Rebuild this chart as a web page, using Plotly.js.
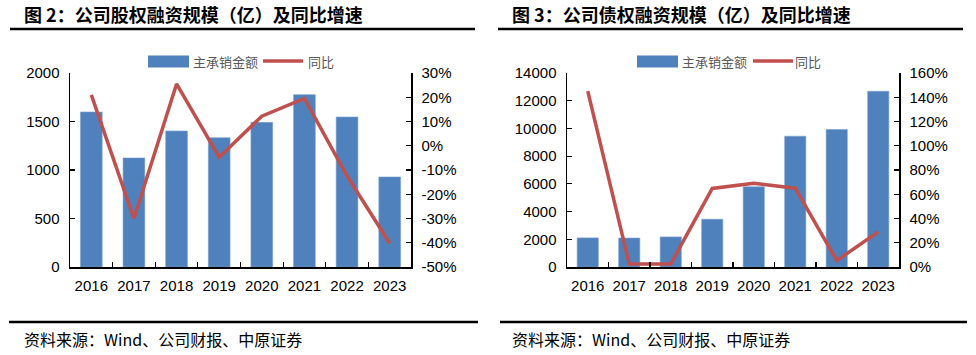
<!DOCTYPE html>
<html>
<head>
<meta charset="utf-8">
<script src="https://cdn.plot.ly/plotly-3.0.1.min.js"></script>
<style>
html,body{margin:0;padding:0;background:#fff;}
#chart{width:976px;height:355px;}
</style>
</head>
<body>
<div id="chart"></div>
<script>
// ---- data ----
const years = ['2016','2017','2018','2019','2020','2021','2022','2023'];
const equityAmount = [1598, 1124, 1402, 1333, 1491, 1777, 1546, 928];
const equityYoY = [21, -30, 25.5, -4.7, 12.2, 19.5, -12.5, -40.2];
const debtAmount = [2100, 2090, 2170, 3450, 5790, 9440, 9920, 12680];
const debtYoY = [145, 2.5, 2.5, 64.8, 69, 65, 5.3, 29];
const equityPctTicks = [30, 20, 10, 0, -10, -20, -30, -40, -50];
const debtPctTicks = [0, 20, 40, 60, 80, 100, 120, 140, 160];
const barName = '主承销金额';
const lineName = '同比';
const titleLeft = '图 2：公司股权融资规模（亿）及同比增速';
const titleRight = '图 3：公司债权融资规模（亿）及同比增速';
const source = '资料来源：Wind、公司财报、中原证券';

// ---- style ----
const W = 976, H = 355;
const px = x => x / W;
const py = y => 1 - y / H;
const BLUE = '#4F81BD', RED = '#C0504D';
const tickFont = {family: 'Liberation Sans, Arial, sans-serif', size: 15, color: '#000'};
const cjk = 'Noto Sans CJK SC, sans-serif';

const traces = [
  {type: 'bar', x: years, y: equityAmount, xaxis: 'x', yaxis: 'y', name: barName,
   marker: {color: BLUE, line: {color: '#7a9fd0', width: 0.6}}, hoverinfo: 'skip'},
  {type: 'scatter', mode: 'lines', x: years, y: equityYoY, xaxis: 'x', yaxis: 'y2', name: lineName,
   line: {color: RED, width: 3.5}, hoverinfo: 'skip'},
  {type: 'bar', x: years, y: debtAmount, xaxis: 'x2', yaxis: 'y3', name: barName,
   marker: {color: BLUE, line: {color: '#7a9fd0', width: 0.6}}, hoverinfo: 'skip'},
  {type: 'scatter', mode: 'lines', x: years, y: debtYoY, xaxis: 'x2', yaxis: 'y4', name: lineName,
   line: {color: RED, width: 3.5}, hoverinfo: 'skip'}
];

const yDom = [py(267), py(73)];
const axBase = {showline: true, linecolor: '#000', linewidth: 1.5, ticks: 'inside', ticklen: 5,
  tickcolor: '#000', tickwidth: 1.2, showgrid: false, zeroline: false, tickfont: tickFont, fixedrange: true};

const xBase = Object.assign({}, axBase, {type: 'category', tickson: 'boundaries', ticklabelstandoff: 4, tickangle: 0});

const layout = {
  width: W, height: H,
  margin: {l: 0, r: 0, t: 0, b: 0},
  paper_bgcolor: '#fff', plot_bgcolor: 'rgba(0,0,0,0)',
  showlegend: false,
  bargap: 0.49,
  xaxis: Object.assign({}, xBase, {domain: [px(70), px(411)], anchor: 'y'}),
  yaxis: Object.assign({}, axBase, {domain: yDom, anchor: 'x', range: [0, 2000], dtick: 500,
    tickformat: 'd', ticklabelstandoff: 6}),
  yaxis2: Object.assign({}, axBase, {overlaying: 'y', side: 'right', anchor: 'x', range: [-50, 30],
    tickvals: equityPctTicks, ticktext: equityPctTicks.map(v => v + '%'), ticklabelstandoff: 6}),
  xaxis2: Object.assign({}, xBase, {domain: [px(567), px(899)], anchor: 'y3'}),
  yaxis3: Object.assign({}, axBase, {domain: yDom, anchor: 'x2', range: [0, 14000], dtick: 2000,
    tickformat: 'd', ticklabelstandoff: 6}),
  yaxis4: Object.assign({}, axBase, {overlaying: 'y3', side: 'right', anchor: 'x2', range: [0, 160],
    tickvals: debtPctTicks, ticktext: debtPctTicks.map(v => v + '%'), ticklabelstandoff: 6}),
  shapes: [],
  annotations: []
};

// frame lines (title rule & footer rule)
[[10, 475, 29], [498, 963, 29], [9, 478, 322], [500, 967, 322]].forEach(([x0, x1, y]) => {
  layout.shapes.push({type: 'line', xref: 'paper', yref: 'paper', x0: px(x0), x1: px(x1), y0: py(y), y1: py(y),
    line: {color: '#000', width: 2.5}});
});

// titles
[[22, titleLeft], [510, titleRight]].forEach(([x, t]) => {
  layout.annotations.push({xref: 'paper', yref: 'paper', x: px(x), y: py(14), xanchor: 'left', yanchor: 'middle',
    text: t, showarrow: false, font: {family: cjk, size: 18, color: '#000', weight: 'bold'}});
});
// footers
[[22, source], [510, source]].forEach(([x, t]) => {
  layout.annotations.push({xref: 'paper', yref: 'paper', x: px(x), y: py(339), xanchor: 'left', yanchor: 'middle',
    text: t, showarrow: false, font: {family: cjk, size: 16, color: '#000'}});
});

// custom legends
function legend(rx0, tx1, lx0, tx2) {
  layout.shapes.push({type: 'rect', xref: 'paper', yref: 'paper', x0: px(rx0), x1: px(rx0 + 41), y0: py(67.5), y1: py(55.5),
    fillcolor: BLUE, line: {width: 0}});
  layout.shapes.push({type: 'line', xref: 'paper', yref: 'paper', x0: px(lx0), x1: px(lx0 + 40), y0: py(61), y1: py(61),
    line: {color: RED, width: 3.5}});
  layout.annotations.push({xref: 'paper', yref: 'paper', x: px(tx1), y: py(61), xanchor: 'left', yanchor: 'middle',
    text: barName, showarrow: false, font: {family: cjk, size: 13, color: '#595959'}});
  layout.annotations.push({xref: 'paper', yref: 'paper', x: px(tx2), y: py(61), xanchor: 'left', yanchor: 'middle',
    text: lineName, showarrow: false, font: {family: cjk, size: 13, color: '#595959'}});
}
legend(148, 191, 263, 306);
legend(637, 680, 753, 793);

Plotly.newPlot('chart', traces, layout, {staticPlot: true, displayModeBar: false});
</script>
</body>
</html>
